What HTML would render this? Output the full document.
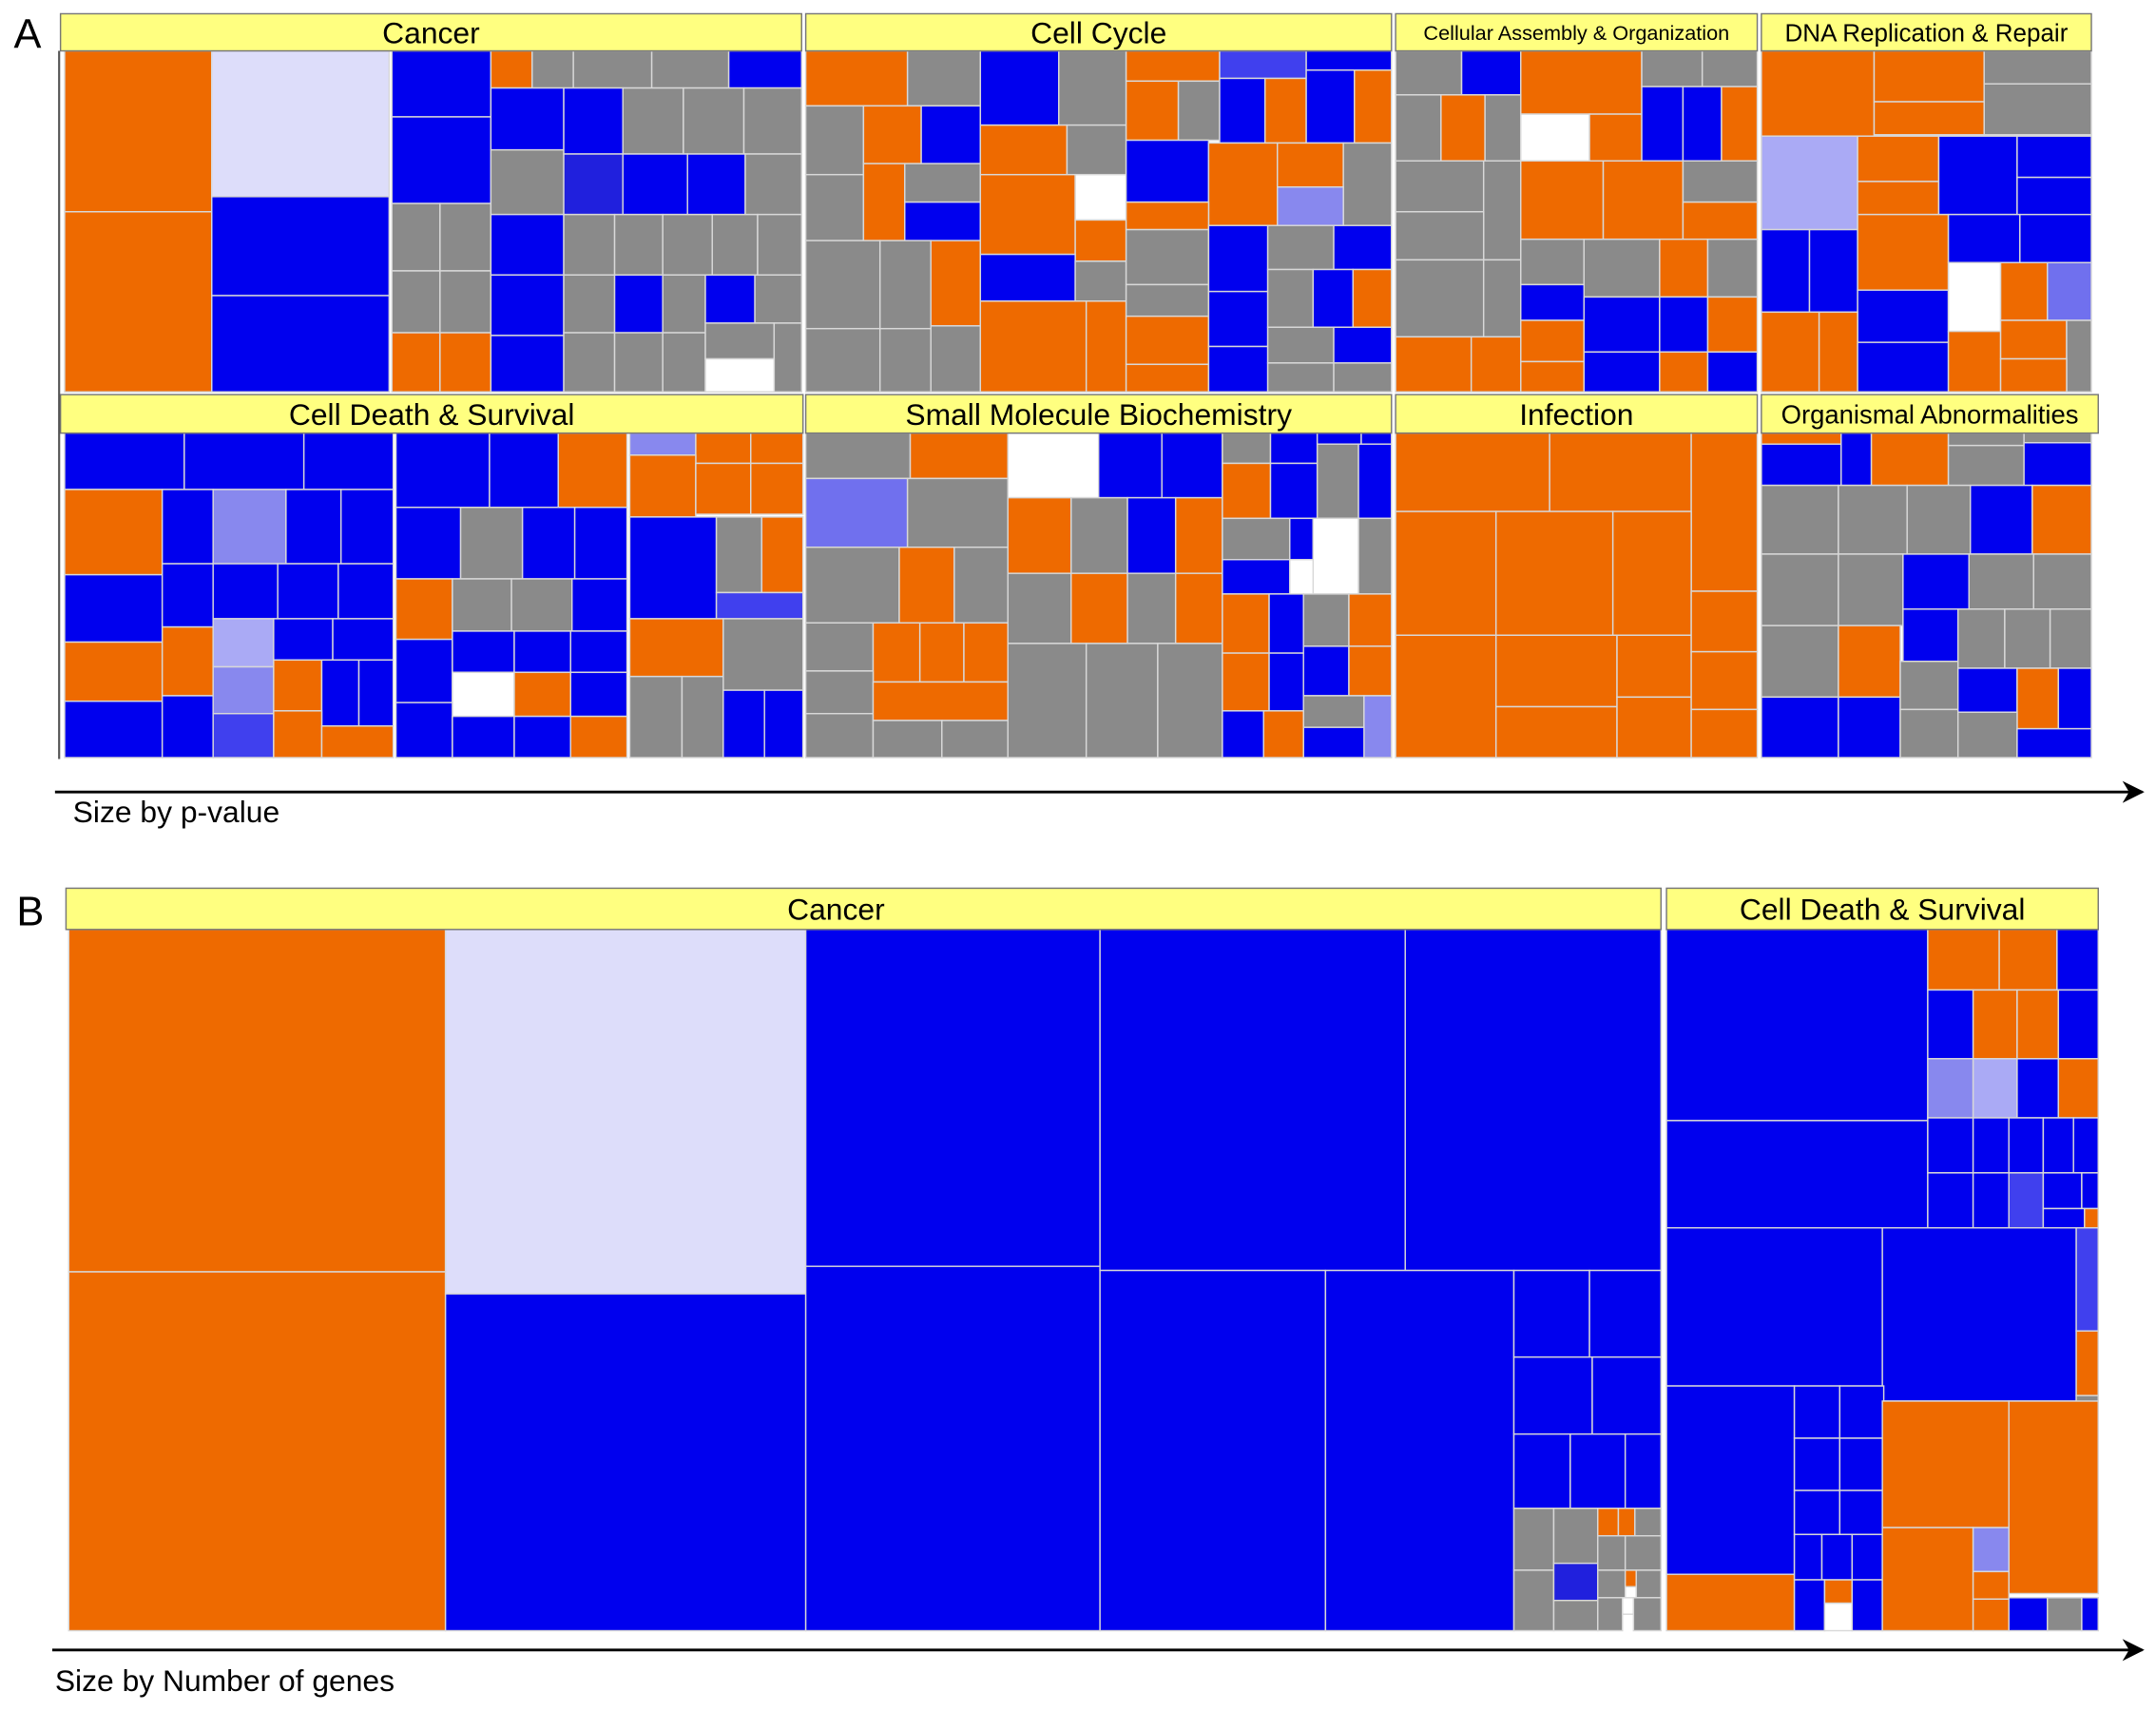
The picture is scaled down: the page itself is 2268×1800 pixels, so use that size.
<!DOCTYPE html>
<html><head><meta charset="utf-8"><style>
html,body{margin:0;padding:0;background:#fff;}
svg{display:block;}
text{font-family:"Liberation Sans",Arial,sans-serif;fill:#000;}
</style></head><body>
<svg id="chart" width="2268" height="1800" viewBox="0 0 1568 1244.4" preserveAspectRatio="none" xmlns="http://www.w3.org/2000/svg">
<defs><marker id="ah" viewBox="0 0 10 10" refX="9" refY="5" markerWidth="8" markerHeight="8" orient="auto"><path d="M0,0 L10,5 L0,10 L3,5 z" fill="#000"/></marker></defs>
<g id="cells"></g>
<g id="headers"></g>
<line x1="43" y1="37" x2="43" y2="552" stroke="#555" stroke-width="1.5"/>
<text x="10" y="35" font-size="30">A</text>
<line x1="40" y1="576" x2="1558" y2="576" stroke="#000" stroke-width="2" marker-end="url(#ah)"/>
<text x="53" y="598" font-size="22">Size by p-value</text>
<text x="12" y="673" font-size="30">B</text>
<line x1="38" y1="1200" x2="1558" y2="1200" stroke="#000" stroke-width="2" marker-end="url(#ah)"/>
<text x="40" y="1230" font-size="22">Size by Number of genes</text>
</svg>
<script>
const colorMap={O:"#EE6A00",B:"#0000EE",G:"#8A8A8A",L:"#DDDDFA",W:"#FFFFFF",M:"#8888EE",M2:"#7070EE",B2:"#2020DD",B3:"#4040EE",L2:"#AAAAF5",M3:"#AAAAF5"};
const headerNames=["Cancer","Cell Cycle","Cellular Assembly & Organization","DNA Replication & Repair","Cell Death & Survival","Small Molecule Biochemistry","Infection","Organismal Abnormalities","Cancer","Cell Death & Survival"];
const headerBoxes=["44,10,539,27,22,0","586,10,426,27,22,0","1015,10,263,27,15,0","1281,10,240,27,18,0","44,287,540,28,22,0","586,287,426,28,22,0","1015,287,263,28,22,0","1281,287,245,28,19,0","48,646,1160,30,22,-20","1212,646,314,30,22,0"];
const cells=`47,37,107,117,O;47,154,107,131,O;154,37,129,106,L;154,143,129,72,B;154,215,129,70,B;285,37,72,48,B;285,85,72,63,B;285,148,35,49,G;320,148,37,49,G;285,197,35,45,G;320,197,37,45,G;285,242,35,43,O;320,242,37,43,O;357,37,30,27,O;387,37,30,27,G;417,37,57,27,G;474,37,56,27,G;530,37,53,27,B;357,64,53,45,B;357,109,53,47,G;357,156,53,44,B;357,200,53,44,B;357,244,53,41,B;410,64,43,48,B;453,64,44,48,G;497,64,44,48,G;541,64,42,48,G;410,112,43,44,B2;453,112,47,44,B;500,112,42,44,B;542,112,41,44,G;410,156,37,44,G;447,156,35,44,G;482,156,36,44,G;518,156,33,44,G;551,156,32,44,G;410,200,37,42,G;447,200,35,42,B;482,200,31,42,G;513,200,36,35,B;549,200,34,35,G;410,242,37,43,G;447,242,35,43,G;482,242,31,43,G;513,235,50,26,G;563,235,20,50,G;513,261,50,24,W;
586,37,74,40,O;660,37,53,40,G;586,77,42,50,G;628,77,42,42,O;670,77,43,42,B;586,127,42,48,G;628,119,30,56,O;658,119,55,28,G;658,147,55,28,B;586,175,54,64,G;640,175,37,64,G;677,175,36,62,O;586,239,54,46,G;640,239,37,46,G;677,237,36,48,G;713,37,57,54,B;770,37,49,54,G;713,91,63,36,O;776,91,43,36,G;713,127,69,58,O;782,127,37,33,W;782,160,37,30,O;713,185,69,34,B;782,190,37,29,G;713,219,77,66,O;790,219,29,66,O;819,37,68,22,O;887,37,63,20,B3;950,37,62,14,B;819,59,38,43,O;857,59,30,43,G;887,57,33,47,B;920,57,30,47,O;950,51,35,53,B;985,51,27,53,O;819,102,60,45,B;879,104,50,60,O;929,104,48,32,O;977,104,35,60,G;929,136,48,28,M;819,147,60,20,O;819,167,60,40,G;819,207,60,23,G;819,230,60,35,O;819,265,60,20,O;879,164,43,48,B;922,164,48,32,G;970,164,42,32,B;879,212,43,40,B;922,196,33,42,G;955,196,29,42,B;984,196,28,42,O;879,252,43,33,B;922,238,48,26,G;970,238,42,26,B;922,264,48,21,G;970,264,42,21,G;
1015,37,48,32,G;1063,37,43,32,B;1106,37,88,46,O;1194,37,44,26,G;1238,37,40,26,G;1015,69,33,48,G;1048,69,32,48,O;1080,69,26,48,G;1106,83,50,34,W;1156,83,38,34,O;1194,63,30,54,B;1224,63,28,54,B;1252,63,26,54,O;1015,117,64,37,G;1079,117,27,72,G;1106,117,60,57,O;1166,117,58,57,O;1224,117,54,30,G;1224,147,54,27,O;1015,154,64,35,G;1015,189,64,56,G;1079,189,27,56,G;1106,174,46,33,G;1152,174,55,42,G;1207,174,35,42,O;1242,174,36,42,G;1106,207,46,26,B;1106,233,46,30,O;1106,263,46,22,O;1152,216,55,40,B;1207,216,35,40,B;1242,216,36,40,O;1152,256,55,29,B;1207,256,35,29,O;1242,256,36,29,B;1015,245,55,40,O;1070,245,36,40,O;
1281,37,82,62,O;1363,37,80,37,O;1443,37,78,24,G;1443,61,78,37,G;1363,74,80,24,O;1281,99,70,68,L2;1351,99,59,33,O;1351,132,59,24,O;1410,99,57,57,B;1467,99,54,30,B;1467,129,54,28,B;1281,167,35,60,B;1316,167,35,60,B;1351,156,66,55,O;1417,156,52,35,B;1469,156,52,35,B;1351,211,66,38,B;1417,191,38,50,W;1455,191,34,42,O;1489,191,32,42,M2;1281,227,42,58,O;1323,227,28,58,O;1351,249,66,36,B;1417,241,38,44,O;1455,233,48,28,O;1503,233,18,52,G;1455,261,48,24,O;
47,315,87,41,B;134,315,87,41,B;221,315,65,41,B;47,356,71,62,O;118,356,37,54,B;155,356,53,54,M;208,356,40,54,B;248,356,38,54,B;47,418,71,49,B;118,410,37,46,B;155,410,47,40,B;202,410,44,40,B;246,410,40,40,B;47,467,71,43,O;118,456,37,50,O;155,450,44,35,L2;199,450,43,30,B;242,450,44,30,B;47,510,71,41,B;118,506,37,45,B;155,485,44,34,M;155,519,44,32,B3;199,480,35,37,O;234,480,27,48,B;261,480,25,48,B;199,517,35,34,O;234,528,52,23,O;288,315,68,54,B;356,315,50,54,B;406,315,50,54,O;288,369,47,52,B;335,369,45,52,G;380,369,38,52,B;418,369,38,52,B;288,421,41,44,O;329,421,43,38,G;372,421,44,38,G;416,421,40,38,B;288,465,41,46,B;329,459,45,30,B;374,459,41,30,B;415,459,41,30,B;329,489,45,32,W;374,489,41,32,O;415,489,41,32,B;288,511,41,40,B;329,521,45,30,B;374,521,41,30,B;415,521,41,30,O;458,315,48,16,M;506,315,40,22,O;546,315,38,22,O;458,331,48,45,O;506,337,40,37,O;546,337,38,37,O;458,376,63,74,B;521,376,33,55,G;554,376,30,55,O;521,431,63,19,B3;458,450,68,42,O;526,450,58,52,G;458,492,38,59,G;496,492,30,59,G;526,502,30,49,B;556,502,28,49,B;
586,315,76,33,G;662,315,71,33,O;733,315,66,47,W;799,315,46,47,B;845,315,44,47,B;586,348,74,50,M2;660,348,73,50,G;586,398,68,55,G;654,398,40,55,O;694,398,39,55,G;586,453,49,35,G;635,453,34,43,O;669,453,32,43,O;701,453,32,43,O;586,488,49,31,G;586,519,49,32,G;635,496,98,28,O;635,524,50,27,G;685,524,48,27,G;733,362,46,55,O;779,362,41,55,G;820,362,35,55,B;855,362,34,55,O;733,417,46,51,G;779,417,41,51,O;820,417,35,51,G;855,417,34,51,O;733,468,57,83,G;790,468,52,83,G;842,468,47,83,G;889,315,35,22,G;924,315,34,22,B;958,315,32,8,B;990,315,22,8,B;889,337,35,40,O;924,337,34,40,B;958,323,30,54,G;988,323,24,54,B;889,377,49,30,G;938,377,17,30,B;955,377,33,55,W;988,377,24,55,G;889,407,49,25,B;889,432,34,43,O;923,432,25,43,B;948,432,33,38,G;981,432,31,38,O;889,475,34,42,O;923,475,25,42,B;948,470,33,36,B;981,470,31,36,O;948,506,44,23,G;992,506,20,45,M;948,529,44,22,B;889,517,30,34,B;919,517,29,34,O;
1015,315,112,57,O;1127,315,103,57,O;1230,315,48,115,O;1015,372,73,90,O;1088,372,85,90,O;1173,372,57,90,O;1015,462,73,89,O;1088,462,88,52,O;1176,462,54,45,O;1088,514,88,37,O;1176,507,54,44,O;1230,430,48,44,O;1230,474,48,42,O;1230,516,48,35,O;
1281,315,58,8,O;1281,323,58,30,B;1339,315,22,38,B;1361,315,56,38,O;1417,315,55,9,G;1417,324,55,29,G;1472,315,49,7,G;1472,322,49,31,B;1281,353,56,50,G;1337,353,50,50,G;1387,353,46,50,G;1433,353,45,50,B;1478,353,43,50,O;1281,403,56,52,G;1337,403,47,52,G;1384,403,48,40,B;1432,403,47,40,G;1479,403,42,40,G;1281,455,56,52,G;1337,455,45,52,O;1384,443,40,38,B;1424,443,34,43,G;1458,443,33,43,G;1491,443,30,43,G;1281,507,56,44,B;1337,507,45,44,B;1382,481,42,35,G;1382,516,42,35,G;1424,486,43,32,B;1467,486,30,44,O;1497,486,24,44,B;1424,518,43,33,G;1467,530,54,21,B;
50,676,274,249,O;50,925,274,261,O;324,676,262,265,L;324,941,262,245,B;586,676,214,245,B;586,921,214,265,B;800,676,222,248,B;1022,676,186,248,B;800,924,164,262,B;964,924,137,262,B;1101,924,55,63,B;1156,924,52,63,B;1101,987,57,56,B;1158,987,50,56,B;1101,1043,41,54,B;1142,1043,40,54,B;1182,1043,26,54,B;1101,1097,29,45,G;1130,1097,32,40,G;1162,1097,15,20,O;1177,1097,12,20,O;1189,1097,19,20,G;1101,1142,29,44,G;1130,1137,32,27,B2;1130,1164,32,22,G;1162,1117,20,25,G;1182,1117,26,25,G;1162,1142,20,20,G;1182,1142,8,12,O;1190,1142,18,20,G;1162,1162,18,24,G;1180,1162,8,12,W;1188,1162,20,24,G;
1212,676,190,139,B;1212,815,190,78,B;1402,676,52,44,O;1454,676,42,44,O;1496,676,30,44,B;1402,720,33,50,B;1435,720,32,50,O;1467,720,30,50,O;1497,720,29,50,B;1402,770,33,43,M;1435,770,32,43,M3;1467,770,30,43,B;1497,770,29,43,O;1402,813,33,40,B;1435,813,26,40,B;1461,813,25,40,B;1486,813,22,40,B;1508,813,18,40,B;1402,853,33,40,B;1435,853,26,40,B;1461,853,25,40,B3;1486,853,28,26,B;1514,853,12,26,B;1486,879,30,14,B;1516,879,10,14,O;1212,893,157,115,B;1369,893,141,126,B;1510,893,16,75,B3;1510,968,16,47,O;1510,1015,16,5,G;1212,1008,93,137,B;1212,1145,93,41,O;1305,1008,33,38,B;1338,1008,32,38,B;1305,1046,33,38,B;1338,1046,32,38,B;1305,1084,33,32,B;1338,1084,32,32,B;1305,1116,20,33,B;1325,1116,22,33,B;1347,1116,22,33,B;1305,1149,22,37,B;1327,1149,20,17,O;1327,1166,20,20,W;1347,1149,22,37,B;1369,1019,92,92,O;1461,1019,65,140,O;1369,1111,66,75,O;1435,1111,26,32,M;1435,1143,26,20,O;1435,1163,26,23,O;1461,1162,28,24,B;1489,1162,25,24,G;1514,1162,12,24,B`;
const NS="http://www.w3.org/2000/svg";
const cg=document.getElementById('cells');
cells.split(';').forEach((s,i)=>{
  const p=s.trim().split(',');if(p.length<5)return;
  const r=document.createElementNS(NS,'rect');
  r.setAttribute('x',p[0]);r.setAttribute('y',p[1]);r.setAttribute('width',p[2]);r.setAttribute('height',p[3]);
  r.setAttribute('fill',colorMap[p[4]]);r.setAttribute('stroke','#d8d8d8');r.setAttribute('stroke-width','1');
  
  
  cg.appendChild(r);
});
const hg=document.getElementById('headers');
headerBoxes.forEach((s,i)=>{
  const p=s.split(',').map(Number);
  const r=document.createElementNS(NS,'rect');
  r.setAttribute('x',p[0]);r.setAttribute('y',p[1]);r.setAttribute('width',p[2]);r.setAttribute('height',p[3]);
  r.setAttribute('fill','#FFFF80');r.setAttribute('stroke','#777');r.setAttribute('stroke-width','1');
  
  
  hg.appendChild(r);
  const t=document.createElementNS(NS,'text');
  t.setAttribute('x',p[0]+p[2]/2+p[5]);t.setAttribute('y',p[1]+p[3]/2+p[4]*0.36);
  t.setAttribute('text-anchor','middle');t.setAttribute('font-size',p[4]);
  t.textContent=headerNames[i];
  
  
  hg.appendChild(t);
});
</script>
</body></html>
